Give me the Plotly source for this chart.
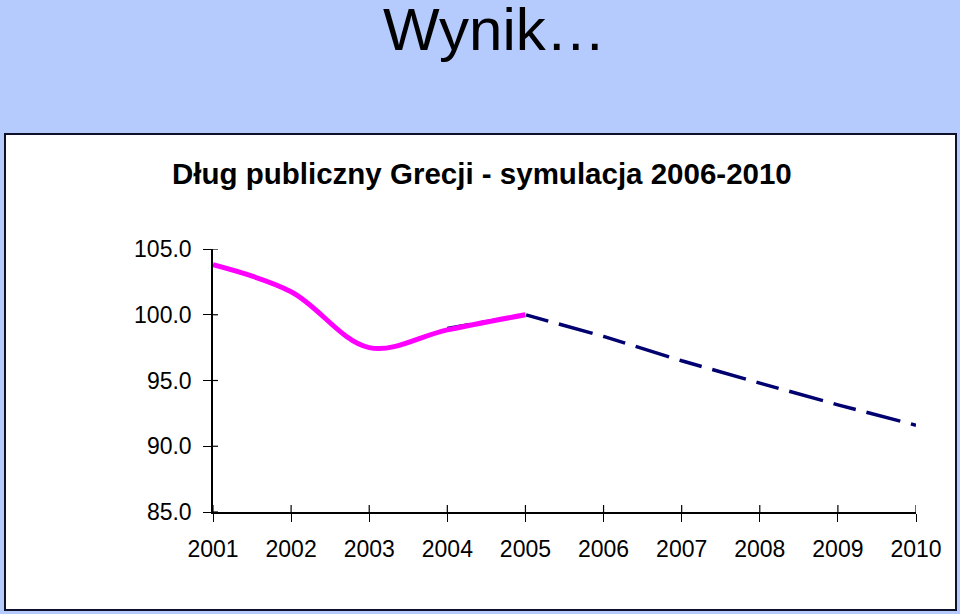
import plotly.graph_objects as go

years = [2001, 2002, 2003, 2004, 2005, 2006, 2007, 2008, 2009, 2010]
actual_years = [2001, 2002, 2003, 2004, 2005]
actual_vals = [103.8, 101.75, 97.5, 98.85, 100.0]
sim_years = [2004, 2005, 2006, 2007, 2008, 2009, 2010]
sim_vals = [98.95, 100.0, 98.35, 96.5, 94.8, 93.15, 91.6]
y_ticks = [85, 90, 95, 100, 105]

FONT = "Liberation Sans, Arial, sans-serif"
W, H = 960, 614
L, R, T, B = 213, 44, 249, 102
pw, ph = W - L - R, H - T - B

def px_x(p):
    return (p - L) / pw

def px_y(p):
    return (H - B - p) / ph

fig = go.Figure()
fig.add_trace(go.Scatter(x=sim_years, y=sim_vals, mode="lines",
                         line=dict(color="#000070", width=3.5, dash="23px,11px,35px,11px"),
                         showlegend=False, hoverinfo="skip"))
fig.add_trace(go.Scatter(x=actual_years, y=actual_vals, mode="lines",
                         line=dict(color="#ff00ff", width=5, shape="spline", smoothing=1.0),
                         showlegend=False, hoverinfo="skip"))

axis_common = dict(showgrid=False, zeroline=False, showline=True, linecolor="black",
                   linewidth=1.5, tickcolor="black", tickwidth=1.2)

# inner halves of the crossing tick marks
shapes = [dict(type="rect", xref="paper", yref="paper", layer="below",
               x0=px_x(5), x1=px_x(956), y0=px_y(610), y1=px_y(134),
               fillcolor="white", line=dict(color="#10102a", width=2))]
for yr in years:
    shapes.append(dict(type="line", xref="x", yref="paper", x0=yr, x1=yr,
                       y0=0, y1=7 / ph, line=dict(color="black", width=1.2)))
for v in y_ticks:
    shapes.append(dict(type="line", xref="paper", yref="y", x0=0, x1=5 / pw,
                       y0=v, y1=v, line=dict(color="black", width=1.2)))

fig.update_layout(
    width=W, height=H,
    margin=dict(l=L, r=R, t=T, b=B, pad=0),
    paper_bgcolor="#b6cbfd",
    plot_bgcolor="white",
    font=dict(family=FONT, color="black"),
    xaxis=dict(range=[2001, 2010], tickmode="array", tickvals=years,
               ticktext=[str(y) for y in years], ticks="outside", ticklen=8,
               tickfont=dict(size=23), ticklabelstandoff=8, **axis_common),
    yaxis=dict(range=[85, 105], tickmode="array", tickvals=y_ticks,
               ticktext=[f"{v:.1f}" for v in y_ticks], ticks="outside", ticklen=8,
               tickfont=dict(size=23), ticklabelstandoff=7, **axis_common),
    shapes=shapes,
    annotations=[
        dict(text="Wynik…", xref="paper", yref="paper", x=px_x(494), y=px_y(29),
             xanchor="center", yanchor="middle", showarrow=False,
             font=dict(family=FONT, size=60, color="black")),
        dict(text="<b>Dług publiczny Grecji - symulacja 2006-2010</b>", xref="paper",
             yref="paper", x=px_x(482), y=px_y(173.5), xanchor="center",
             yanchor="middle", showarrow=False,
             font=dict(family=FONT, size=29.5, color="black")),
    ],
)
fig.write_html("out.html")
